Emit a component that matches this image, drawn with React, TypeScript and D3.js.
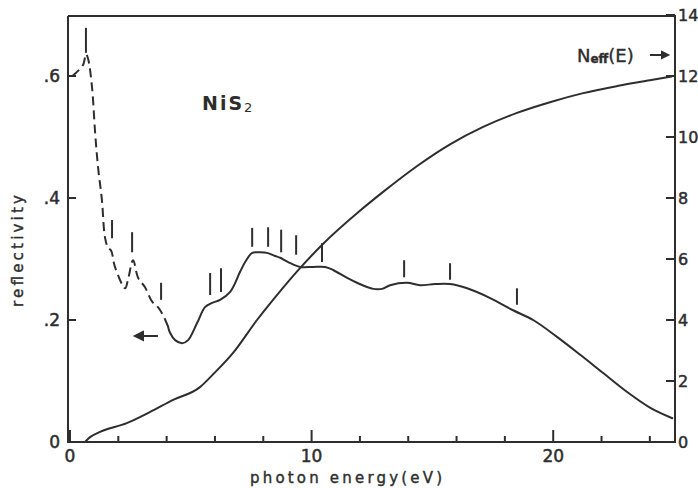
import React from "react";
import * as d3 from "d3";

// ---- data ----
const energyDashed = [0.1, 0.54, 0.66, 0.75, 0.91, 1.04, 1.16, 1.32, 1.45, 1.58, 1.7, 1.86, 2.28, 2.4, 2.61, 2.82, 3.1, 3.4, 3.64, 3.85, 4.06];
const reflDashed = [0.6, 0.618, 0.636, 0.628, 0.582, 0.507, 0.451, 0.397, 0.335, 0.318, 0.314, 0.287, 0.252, 0.266, 0.298, 0.269, 0.254, 0.23, 0.221, 0.208, 0.189];

const energySolid = [4.06, 4.14, 4.35, 4.64, 4.89, 5.26, 5.59, 5.88, 6.21, 6.63, 7.04, 7.25, 7.54, 7.87, 8.16, 8.49, 8.7, 9.03, 9.52, 10.06, 10.56, 10.89, 11.47, 11.88, 12.55, 12.92, 13.25, 13.95, 14.49, 15.11, 15.73, 16.44, 17.39, 18.34, 19.17, 20.17, 21.12, 22.07, 23.06, 24.02, 24.93];
const reflSolid = [0.189, 0.179, 0.167, 0.162, 0.167, 0.195, 0.221, 0.228, 0.233, 0.246, 0.279, 0.295, 0.31, 0.311, 0.31, 0.305, 0.302, 0.295, 0.287, 0.287, 0.287, 0.282, 0.269, 0.261, 0.251, 0.251, 0.257, 0.261, 0.257, 0.259, 0.259, 0.252, 0.236, 0.216, 0.2, 0.172, 0.143, 0.113, 0.082, 0.056, 0.039];

const energyNeff = [0.62, 0.83, 1.24, 2.35, 3.3, 4.27, 5.38, 5.9, 6.75, 7.74, 8.6, 9.52, 10.48, 12.0, 12.96, 14.37, 15.73, 17.1, 18.5, 19.9, 21.2, 22.65, 24.0, 24.9];
const neffValues = [0, 0.16, 0.33, 0.62, 0.98, 1.38, 1.8, 2.2, 2.92, 4.0, 4.85, 5.7, 6.5, 7.58, 8.2, 9.05, 9.76, 10.33, 10.79, 11.15, 11.43, 11.67, 11.86, 11.98];

const markerEnergy = [0.66, 1.74, 2.57, 3.77, 5.8, 6.25, 7.54, 8.2, 8.74, 9.36, 10.43, 13.83, 15.73, 18.5];
const markerTop = [0.679, 0.364, 0.344, 0.261, 0.277, 0.285, 0.351, 0.352, 0.348, 0.339, 0.326, 0.298, 0.293, 0.252];
const markerBottom = [0.638, 0.334, 0.311, 0.233, 0.241, 0.246, 0.32, 0.32, 0.311, 0.307, 0.295, 0.27, 0.266, 0.225];

const xTicks = [0, 2, 4, 6, 8, 10, 12, 14, 16, 18, 20, 22, 24];
const xLabels = [0, 10, 20];
const leftTicks = [0.2, 0.4, 0.6];
const leftLabels = ["0", ".2", ".4", ".6"];
const leftLabelValues = [0, 0.2, 0.4, 0.6];
const rightTicks = [2, 4, 6, 8, 10, 12, 14];
const rightLabelValues = [0, 2, 4, 6, 8, 10, 12, 14];

const INK = "#2e2e2e";
const FONT = "'DejaVu Sans', sans-serif";

export default function App() {
  const x = d3.scaleLinear().domain([0, 25]).range([70, 674]);
  const yR = d3.scaleLinear().domain([0, 0.7]).range([442, 15]);
  const yN = d3.scaleLinear().domain([0, 14]).range([442, 15]);

  const lineR = d3
    .line<[number, number]>()
    .x((d) => x(d[0]))
    .y((d) => yR(d[1]))
    .curve(d3.curveCatmullRom.alpha(0.5));
  const lineN = d3
    .line<[number, number]>()
    .x((d) => x(d[0]))
    .y((d) => yN(d[1]))
    .curve(d3.curveMonotoneX);

  const dashedPts = energyDashed.map((e, i) => [e, reflDashed[i]] as [number, number]);
  const solidPts = energySolid.map((e, i) => [e, reflSolid[i]] as [number, number]);
  const neffPts = energyNeff.map((e, i) => [e, neffValues[i]] as [number, number]);

  const left = x(0) - 2;
  const right = x(25) + 1;
  const top = yR(0.7) + 1;
  const bottom = yR(0);

  return (
    <svg
      width={698}
      height={488}
      style={{ position: "absolute", left: 0, top: 0, background: "#fff" }}
      fontFamily={FONT}
    >
      <rect x={0} y={0} width={698} height={488} fill="#fff" />
      {/* frame */}
      <g stroke={INK} strokeWidth={2} fill="none">
        <line x1={left} y1={top} x2={right} y2={top} />
        <line x1={left} y1={top} x2={left} y2={bottom + 1} />
        <line x1={left} y1={bottom} x2={right} y2={bottom} />
        <line x1={right} y1={top - 1} x2={right} y2={bottom + 1} />
      </g>

      {/* ticks (inward) */}
      <g stroke={INK} strokeWidth={2}>
        {xTicks.map((t) => (
          <line
            key={"xt" + t}
            x1={x(t)}
            x2={x(t)}
            y1={bottom}
            y2={bottom - (t % 10 === 0 ? 12 : 6)}
          />
        ))}
        {leftTicks.map((t) => (
          <line key={"lt" + t} x1={left} x2={left + 8} y1={yR(t)} y2={yR(t)} />
        ))}
        {rightTicks.map((t) => (
          <line key={"rt" + t} x1={right} x2={right - 9} y1={yN(t)} y2={yN(t)} />
        ))}
      </g>

      {/* tick labels */}
      <g fill={INK} stroke={INK} strokeWidth={0.5} fontSize={17}>
        {xLabels.map((t) => (
          <text key={"xl" + t} x={x(t)} y={462} textAnchor="middle">
            {t}
          </text>
        ))}
        {leftLabelValues.map((v, i) => (
          <text key={"ll" + v} x={60} y={yR(v) + 6} textAnchor="end">
            {leftLabels[i]}
          </text>
        ))}
        {rightLabelValues.map((v) => (
          <text key={"rl" + v} x={678} y={yN(v) + 6} textAnchor="start" fontSize={16}>
            {v}
          </text>
        ))}
      </g>

      {/* axis titles */}
      <text
        x={346}
        y={483}
        textAnchor="middle"
        fontSize={15}
        fill={INK}
        stroke={INK}
        strokeWidth={0.4}
        textLength={192}
        lengthAdjust="spacing"
      >
        photon energy(eV)
      </text>
      <text
        transform="translate(23,251) rotate(-90)"
        textAnchor="middle"
        fontSize={15}
        fill={INK}
        stroke={INK}
        strokeWidth={0.4}
        textLength={112}
        lengthAdjust="spacing"
      >
        reflectivity
      </text>

      {/* curves */}
      <g fill="none" stroke={INK} strokeWidth={2} strokeLinejoin="round" strokeLinecap="round">
        <path d={lineR(dashedPts) || ""} strokeDasharray="9 5" strokeLinecap="butt" />
        <path d={lineR(solidPts) || ""} />
        <path d={lineN(neffPts) || ""} />
      </g>

      {/* structure markers */}
      <g stroke={INK} strokeWidth={2}>
        {markerEnergy.map((e, i) => (
          <line
            key={"m" + i}
            x1={x(e)}
            x2={x(e)}
            y1={yR(markerTop[i])}
            y2={yR(markerBottom[i])}
          />
        ))}
      </g>

      {/* labels */}
      <text x={202} y={110} fontSize={19} fontWeight="bold" fill={INK} letterSpacing={2}>
        NiS
        <tspan fontSize={13} fontWeight="normal" dy={2}>
          2
        </tspan>
      </text>
      <text x={577} y={62} fontSize={18} fill={INK} stroke={INK} strokeWidth={0.4}>
        N
        <tspan fontSize={12} fontWeight="bold" dy={1}>
          eff
        </tspan>
        <tspan dy={-1}>(E)</tspan>
      </text>
      <g stroke={INK} strokeWidth={2} fill={INK}>
        <line x1={650} y1={55} x2={664} y2={55} />
        <path d="M662,52 L668,55 L662,58 Z" />
        <line x1={141} y1={336} x2={158} y2={336} />
        <path d="M143,332 L135,336 L143,340 Z" />
      </g>
    </svg>
  );
}
